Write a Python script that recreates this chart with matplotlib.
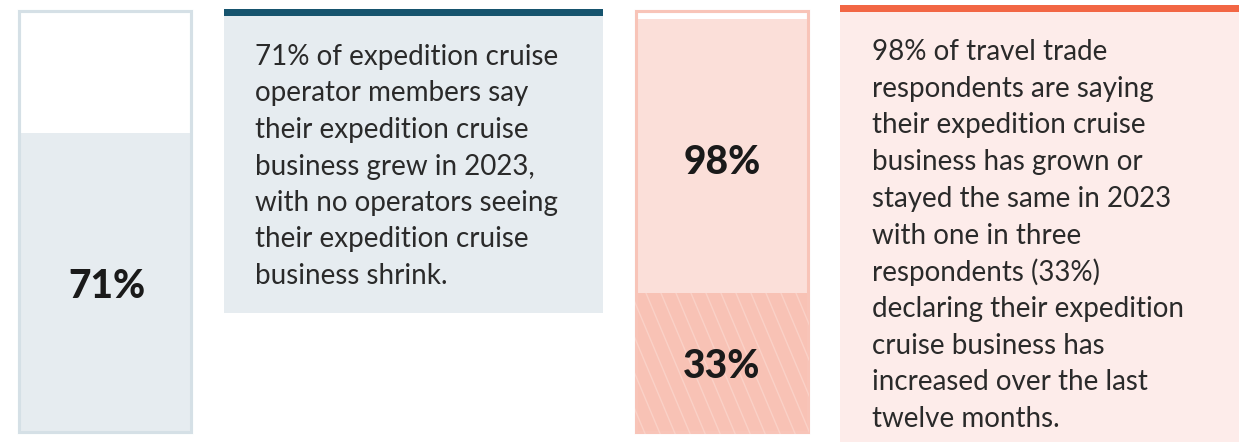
import numpy as np
import matplotlib.pyplot as plt
from matplotlib.patches import Rectangle

# survey shares (percent)
operators_grew = 71
trade_grew_or_same = 98
trade_increased = 33

operator_lines = [
    "71% of expedition cruise",
    "operator members say",
    "their expedition cruise",
    "business grew in 2023,",
    "with no operators seeing",
    "their expedition cruise",
    "business shrink.",
]
trade_lines = [
    "98% of travel trade",
    "respondents are saying",
    "their expedition cruise",
    "business has grown or",
    "stayed the same in 2023",
    "with one in three",
    "respondents (33%)",
    "declaring their expedition",
    "cruise business has",
    "increased over the last",
    "twelve months.",
]

W, H = 1239, 442
BODY = "Lato"
TXT = "#2a2a2a"

fig = plt.figure(figsize=(W / 100, H / 100), dpi=100)
ax = fig.add_axes([0, 0, 1, 1])
ax.set_xlim(0, W)
ax.set_ylim(H, 0)
ax.axis("off")


def gauge(x, top, bottom, width, pct, fill, edge):
    inner_h = bottom - top
    level = bottom - inner_h * pct / 100
    ax.add_patch(Rectangle((x, top), width, inner_h, facecolor="white",
                           edgecolor=edge, linewidth=2.2, zorder=1))
    ax.add_patch(Rectangle((x, level), width, bottom - level,
                           facecolor=fill, edgecolor="none", zorder=2))
    return level


# left gauge
g_top, g_bot = 11, 432
lvl = gauge(19, g_top, g_bot, 172, operators_grew, "#e6ecf0", "#d5e0e6")
ax.add_patch(Rectangle((19, g_top), 172, g_bot - g_top, facecolor="none",
                       edgecolor="#d5e0e6", linewidth=2.2, zorder=3))
ax.text(107, (lvl + g_bot) / 2 + 4, f"{operators_grew}%", ha="center", va="center",
        fontsize=28, fontweight="black", family=BODY, color="#1a1a1a", zorder=5)

# left text card
ax.add_patch(Rectangle((224, 9), 379, 304, facecolor="#e6ecf0",
                       edgecolor="none", zorder=1))
ax.add_patch(Rectangle((224, 9), 379, 7, facecolor="#16546e",
                       edgecolor="none", zorder=2))
for i, line in enumerate(operator_lines):
    ax.text(255, 57 + i * 36.5, line, ha="left", va="center", fontsize=20,
            family=BODY, color=TXT)

# right gauge, two levels
r_x, r_w = 636, 172
lvl98 = gauge(r_x, g_top, g_bot, r_w, trade_grew_or_same, "#fbdfd9", "#f8c4b8")
inner_h = g_bot - g_top
lvl33 = g_bot - inner_h * trade_increased / 100
low = Rectangle((r_x - 1, lvl33), r_w + 2, g_bot - lvl33 + 2,
                facecolor="#f8c2b5", edgecolor="none", zorder=3)
ax.add_patch(low)
# diagonal stripes in the lower block
for s in np.arange(r_x - 80, r_x + r_w + 10, 15):
    ln, = ax.plot([s, s + 0.42 * (g_bot - lvl33 + 2)], [lvl33, g_bot + 2],
                  color="#fad1c7", linewidth=1.0, zorder=4)
    ln.set_clip_path(low)
ax.add_patch(Rectangle((r_x, g_top), r_w, g_bot - g_top, facecolor="none",
                       edgecolor="#f8c4b8", linewidth=2.2, zorder=3))
ax.text(r_x + r_w / 2, 162, f"{trade_grew_or_same}%", ha="center", va="center",
        fontsize=28, fontweight="black", family=BODY, color="#1a1a1a", zorder=5)
ax.text(r_x + r_w / 2, (lvl33 + g_bot) / 2 + 4, f"{trade_increased}%", ha="center",
        va="center", fontsize=28, fontweight="black", family=BODY,
        color="#1a1a1a", zorder=5)

# right text card
ax.add_patch(Rectangle((840, 5), W - 840, H - 5, facecolor="#fdecea",
                       edgecolor="none", zorder=1))
ax.add_patch(Rectangle((840, 5), W - 840, 7, facecolor="#f26644",
                       edgecolor="none", zorder=2))
for i, line in enumerate(trade_lines):
    ax.text(872, 52 + i * 36.7, line, ha="left", va="center", fontsize=20,
            family=BODY, color=TXT)

fig.savefig("out.png", dpi=100)
